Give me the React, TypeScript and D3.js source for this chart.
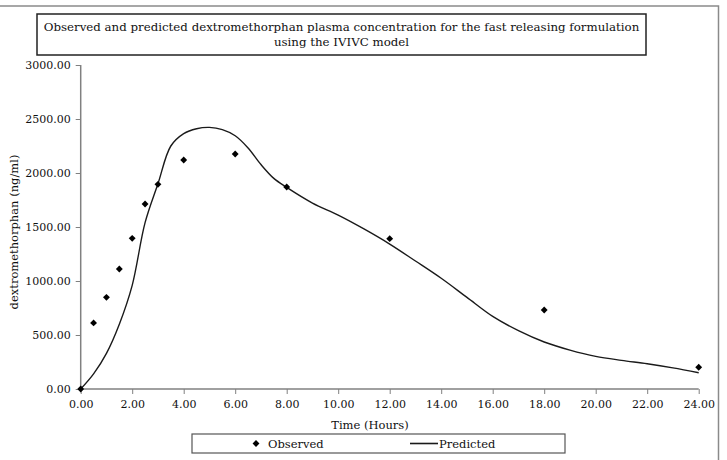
import { useEffect, useRef } from 'react';
import * as d3 from 'd3';

// Observed plasma samples (hours, ng/ml)
const observedTime = [0, 0.5, 1, 1.5, 2, 2.5, 3, 4, 6, 8, 12, 18, 24];
const observedConc = [0, 612, 849, 1111, 1395, 1713, 1895, 2120, 2176, 1870, 1392, 731, 201];

// IVIVC predicted profile
const predictedTime = [0, 0.5, 1, 1.5, 2, 2.5, 3, 3.5, 4, 4.5, 5, 5.5, 6, 6.5, 7, 7.5, 8, 9, 10, 11, 12, 13, 14, 15, 16, 17, 18, 19, 20, 21, 22, 23, 24];
const predictedConc = [0, 140, 330, 600, 960, 1540, 1900, 2250, 2365, 2410, 2422, 2402, 2345, 2232, 2078, 1950, 1867, 1722, 1610, 1482, 1342, 1185, 1025, 848, 672, 540, 435, 360, 302, 265, 234, 196, 151];

const xTicks = d3.range(0, 25, 2);
const yTicks = d3.range(0, 3001, 500);

const titleLines = [
  'Observed and predicted dextromethorphan plasma concentration for the fast releasing formulation',
  'using the IVIVC model',
];

const FONT = '"DejaVu Serif", serif';

export default function App() {
  const svgRef = useRef<SVGSVGElement>(null);

  useEffect(() => {
    if (!svgRef.current) return;
    const svg = d3.select(svgRef.current);
    svg.selectAll('*').remove();

    const x = d3.scaleLinear().domain([0, 24]).range([80.7, 698.7]);
    const y = d3.scaleLinear().domain([0, 3000]).range([389, 65]);

    // chart area frame
    svg.append('rect')
      .attr('x', -2).attr('y', 6)
      .attr('width', 720.5).attr('height', 470)
      .attr('fill', 'none')
      .attr('stroke', '#8a8a8a')
      .attr('stroke-width', 1.5);

    // title box
    svg.append('rect')
      .attr('x', 37).attr('y', 14)
      .attr('width', 609).attr('height', 41)
      .attr('fill', '#fff')
      .attr('stroke', '#222')
      .attr('stroke-width', 1.5);

    svg.append('text')
      .attr('text-anchor', 'middle')
      .attr('font-family', FONT)
      .attr('font-size', 11.8)
      .attr('fill', '#111')
      .selectAll('tspan')
      .data(titleLines)
      .join('tspan')
      .attr('x', 341.5)
      .attr('y', (_, i) => 31 + i * 15)
      .text(d => d);

    // axes
    const axisColor = '#808080';
    const gx = svg.append('g')
      .attr('transform', `translate(0,${y(0)})`)
      .call(d3.axisBottom(x).tickValues(xTicks).tickSize(5).tickPadding(6).tickFormat(d3.format('.2f')));
    const gy = svg.append('g')
      .attr('transform', `translate(${x(0)},0)`)
      .call(d3.axisLeft(y).tickValues(yTicks).tickSize(5).tickPadding(5).tickFormat(d3.format('.2f')));

    [gx, gy].forEach(g => {
      g.select('.domain').attr('stroke', axisColor).attr('stroke-width', 1.5);
      g.selectAll('.tick line').attr('stroke', axisColor).attr('stroke-width', 1);
      g.selectAll('.tick text')
        .attr('font-family', FONT)
        .attr('font-size', 11)
        .attr('fill', '#111');
    });
    // straight axis lines without end caps
    gx.select('.domain').attr('d', `M${x(0)},0H${x(24)}`);
    gy.select('.domain').attr('d', `M0,${y(3000)}V${y(0)}`);

    // axis titles
    svg.append('text')
      .attr('x', 370).attr('y', 429)
      .attr('text-anchor', 'middle')
      .attr('font-family', FONT)
      .attr('font-size', 11.5)
      .attr('fill', '#111')
      .text('Time (Hours)');

    svg.append('text')
      .attr('transform', `translate(18,${(y(0) + y(3000)) / 2 + 5}) rotate(-90)`)
      .attr('text-anchor', 'middle')
      .attr('font-family', FONT)
      .attr('font-size', 11.5)
      .attr('fill', '#111')
      .text('dextromethorphan (ng/ml)');

    // predicted curve
    const predicted = predictedTime.map((t, i) => [t, predictedConc[i]] as [number, number]);
    const line = d3.line<[number, number]>()
      .x(d => x(d[0]))
      .y(d => y(d[1]))
      .curve(d3.curveCatmullRom.alpha(0.5));
    svg.append('path')
      .datum(predicted)
      .attr('d', line)
      .attr('fill', 'none')
      .attr('stroke', '#1a1a1a')
      .attr('stroke-width', 1.4);

    // observed markers
    const diamond = d3.symbol().type(d3.symbolDiamond2).size(30);
    svg.append('g')
      .selectAll('path')
      .data(observedTime.map((t, i) => [t, observedConc[i]]))
      .join('path')
      .attr('transform', d => `translate(${x(d[0])},${y(d[1])})`)
      .attr('d', diamond)
      .attr('fill', '#000');

    // legend
    const legend = svg.append('g');
    legend.append('rect')
      .attr('x', 192).attr('y', 434)
      .attr('width', 373).attr('height', 19)
      .attr('fill', '#fff')
      .attr('stroke', '#555')
      .attr('stroke-width', 1.2);
    legend.append('path')
      .attr('transform', 'translate(256,443.5)')
      .attr('d', diamond)
      .attr('fill', '#000');
    legend.append('text')
      .attr('x', 268).attr('y', 448)
      .attr('font-family', FONT)
      .attr('font-size', 11.5)
      .attr('fill', '#111')
      .text('Observed');
    legend.append('line')
      .attr('x1', 410).attr('x2', 438)
      .attr('y1', 443.5).attr('y2', 443.5)
      .attr('stroke', '#1a1a1a')
      .attr('stroke-width', 1.6);
    legend.append('text')
      .attr('x', 439).attr('y', 448)
      .attr('font-family', FONT)
      .attr('font-size', 11.5)
      .attr('fill', '#111')
      .text('Predicted');
  }, []);

  return (
    <svg
      ref={svgRef}
      width={727}
      height={460}
      style={{ position: 'absolute', left: 0, top: 0, background: '#fff' }}
    />
  );
}
